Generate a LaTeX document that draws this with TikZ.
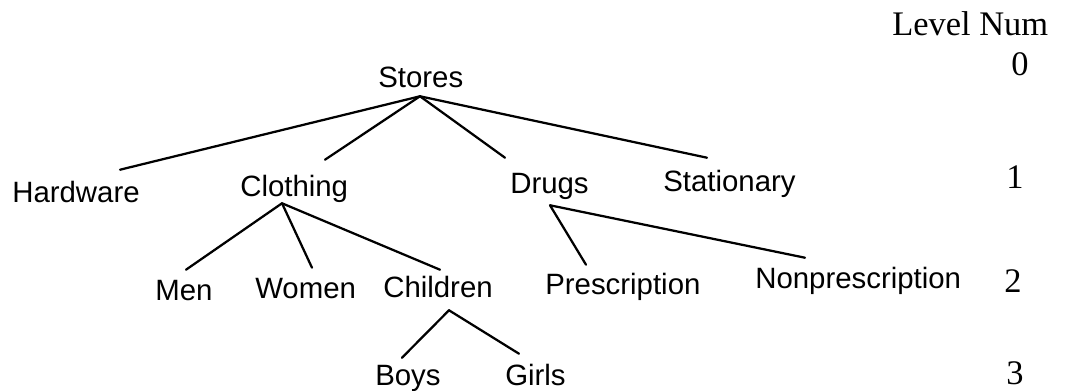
\documentclass[tikz,border=0pt]{standalone}
\usepackage{fontspec}
\setmainfont{Liberation Serif}
\setsansfont{Liberation Sans}

\begin{document}
\begin{tikzpicture}[
  x=0.025cm, y=-0.025cm,
  %% ── node styles ────────────────────────────────────────────────────
  %% Tree labels (placed by the left end of their baseline)
  T/.style ={anchor=base west, inner sep=0pt,
             text height=0.5cm, text depth=0.15cm,
             font=\sffamily\fontsize{20.9}{24}\selectfont},
  %% Level column (serif)
  L/.style ={anchor=base, inner sep=0pt,
             font=\fontsize{24.5}{28}\selectfont},
  %% Branches
  br/.style={line width=1.6pt, black, line cap=round},
]

\useasboundingbox (0,0) rectangle (1067,390);

%% ════════════════════════════════════════════════════════════════════
%% LEVEL COLUMN
%% ════════════════════════════════════════════════════════════════════
\node[L, anchor=base west] (lvl) at (892, 35) {Level Num};
\node[L] (lv0) at (1020, 75)  {0};
\node[L] (lv1) at (1015,188)  {1};
\node[L] (lv2) at (1013,292)  {2};
\node[L] (lv3) at (1015,384)  {3};

%% ════════════════════════════════════════════════════════════════════
%% TREE
%% ════════════════════════════════════════════════════════════════════

%% Level 0
\node[T] (stores)   at (378, 87)  {Stores};

%% Level 1
\node[T] (hardware) at ( 12,202)  {Hardware};
\node[T] (clothing) at (240,196)  {Clothing};
\node[T] (drugs)    at (510,193)  {Drugs};
\node[T] (station)  at (663,191)  {Stationary};

%% Level 2
\node[T] (men)      at (155,300)  {Men};
\node[T] (women)    at (255,298)  {Women};
\node[T] (children) at (383,297)  {Children};
\node[T] (presc)    at (545,294)  {Prescription};
\node[T] (nonpresc) at (755,288)  {Nonprescription};

%% Level 3
\node[T] (boys)     at (375,385)  {Boys};
\node[T] (girls)    at (505,385)  {Girls};

%% Branch points just under each parent
\coordinate (storesJ)   at ([shift={(42,3)}]stores.south west);
\coordinate (clothingJ) at ([shift={(42,1)}]clothing.south west);
\coordinate (drugsJ)    at ([shift={(40,6)}]drugs.south west);
\coordinate (childrenJ) at ([shift={(66,7)}]children.south west);

%% Branches (parent junction -> point just above child)
\foreach \p/\c/\dx/\dy in {storesJ/hardware/108/-12, storesJ/clothing/85/-16,
                           storesJ/drugs/-5/-15,     storesJ/station/44/-13,
                           clothingJ/men/31/-10,     clothingJ/women/57/-10,
                           clothingJ/children/57/-7,
                           drugsJ/presc/41/-9,       drugsJ/nonpresc/50/-10,
                           childrenJ/boys/27/-7,     childrenJ/girls/14/-11}
  \draw[br] (\p) -- ([shift={(\dx,\dy)}]\c.north west);

\end{tikzpicture}
\end{document}
